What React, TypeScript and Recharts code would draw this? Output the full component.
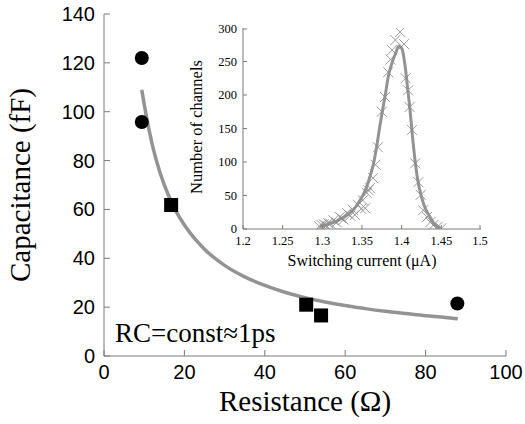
import React from 'react';
import { ComposedChart, Line, Scatter, XAxis, YAxis, Label } from 'recharts';

// ---------- main chart data ----------
const resistanceTicks = [0, 20, 40, 60, 80, 100];
const capacitanceTicks = [0, 20, 40, 60, 80, 100, 120, 140];

const circlePoints = [
  { r: 9.4, c: 122 },
  { r: 9.4, c: 95.8 },
  { r: 87.9, c: 21.5 },
];

const squarePoints = [
  { r: 16.7, c: 61.8 },
  { r: 50.3, c: 21 },
  { r: 54, c: 16.6 },
];

const fitCurve = [
  { r: 9.4, c: 109 },
  { r: 10, c: 103 },
  { r: 12, c: 86.5 },
  { r: 14, c: 74.7 },
  { r: 16, c: 65.9 },
  { r: 18, c: 59 },
  { r: 20, c: 53.6 },
  { r: 25, c: 43.7 },
  { r: 30, c: 37.1 },
  { r: 35, c: 32.4 },
  { r: 40, c: 28.9 },
  { r: 45, c: 26.1 },
  { r: 50, c: 23.9 },
  { r: 55, c: 22.1 },
  { r: 60, c: 20.7 },
  { r: 65, c: 19.4 },
  { r: 70, c: 18.3 },
  { r: 75, c: 17.4 },
  { r: 80, c: 16.5 },
  { r: 85, c: 15.8 },
  { r: 88, c: 15.2 },
];

// ---------- inset data ----------
const currentTicks = [1.2, 1.25, 1.3, 1.35, 1.4, 1.45, 1.5];
const channelTicks = [0, 50, 100, 150, 200, 250, 300];

const histogramPoints = [
  { i: 1.296, n: 4 },
  { i: 1.299, n: 6 },
  { i: 1.302, n: 7 },
  { i: 1.305, n: 5 },
  { i: 1.307, n: 9 },
  { i: 1.31, n: 8 },
  { i: 1.314, n: 13 },
  { i: 1.318, n: 10 },
  { i: 1.322, n: 18 },
  { i: 1.324, n: 16 },
  { i: 1.327, n: 14 },
  { i: 1.331, n: 24 },
  { i: 1.335, n: 20 },
  { i: 1.339, n: 28 },
  { i: 1.341, n: 21 },
  { i: 1.345, n: 36 },
  { i: 1.349, n: 30 },
  { i: 1.351, n: 43 },
  { i: 1.354, n: 31 },
  { i: 1.356, n: 54 },
  { i: 1.358, n: 58 },
  { i: 1.36, n: 61 },
  { i: 1.364, n: 76 },
  { i: 1.367, n: 96 },
  { i: 1.37, n: 122 },
  { i: 1.375, n: 175 },
  { i: 1.379, n: 197 },
  { i: 1.383, n: 234 },
  { i: 1.386, n: 253 },
  { i: 1.388, n: 267 },
  { i: 1.392, n: 282 },
  { i: 1.398, n: 294 },
  { i: 1.403, n: 276 },
  { i: 1.405, n: 225 },
  { i: 1.408, n: 207 },
  { i: 1.41, n: 182 },
  { i: 1.413, n: 148 },
  { i: 1.417, n: 98 },
  { i: 1.421, n: 70 },
  { i: 1.424, n: 51 },
  { i: 1.427, n: 28 },
  { i: 1.432, n: 18 },
  { i: 1.436, n: 10 },
  { i: 1.44, n: 6 },
  { i: 1.445, n: 3 },
  { i: 1.45, n: 1 },
];

const histogramFit = [
  { i: 1.297, n: 4 },
  { i: 1.31, n: 8 },
  { i: 1.32, n: 13 },
  { i: 1.33, n: 20 },
  { i: 1.34, n: 30 },
  { i: 1.3475, n: 43 },
  { i: 1.355, n: 60 },
  { i: 1.36, n: 78 },
  { i: 1.365, n: 100 },
  { i: 1.3685, n: 123 },
  { i: 1.372, n: 150 },
  { i: 1.376, n: 178 },
  { i: 1.38, n: 205 },
  { i: 1.383, n: 227 },
  { i: 1.387, n: 245 },
  { i: 1.3916, n: 260 },
  { i: 1.3966, n: 273 },
  { i: 1.4, n: 270 },
  { i: 1.4025, n: 258 },
  { i: 1.405, n: 237 },
  { i: 1.4075, n: 210 },
  { i: 1.4105, n: 178 },
  { i: 1.4135, n: 140 },
  { i: 1.4168, n: 103 },
  { i: 1.42, n: 75 },
  { i: 1.425, n: 48 },
  { i: 1.43, n: 30 },
  { i: 1.4357, n: 18 },
  { i: 1.44, n: 9 },
  { i: 1.4483, n: 1.5 },
];

// ---------- styles ----------
const FRAME = '#7a7a7a';
const CURVE = '#939393';
const SANS = '"Liberation Sans", Arial, Helvetica, sans-serif';
const SERIF = '"Liberation Serif", "Times New Roman", serif';

type TickOpts = { len: number; off: number; fs?: number; ff?: string; show: boolean };

const bottomTick = (o: TickOpts) => (p: any) => (
  <g>
    <line x1={p.x} x2={p.x} y1={p.y} y2={p.y - o.len} stroke={FRAME} strokeWidth={1} />
    {o.show && (
      <text x={p.x} y={p.y + o.off} textAnchor="middle" fontSize={o.fs} fontFamily={o.ff} fill="#000">
        {String(p.payload.value)}
      </text>
    )}
  </g>
);

const topTick = (o: TickOpts) => (p: any) => (
  <g>
    <line x1={p.x} x2={p.x} y1={p.y} y2={p.y + o.len} stroke={FRAME} strokeWidth={1} />
  </g>
);

const leftTick = (o: TickOpts & { base: number }) => (p: any) => (
  <g>
    <line x1={p.x} x2={p.x + o.len} y1={p.y} y2={p.y} stroke={FRAME} strokeWidth={1} />
    {o.show && (
      <text x={p.x - o.off} y={p.y + o.base} textAnchor="end" fontSize={o.fs} fontFamily={o.ff} fill="#000">
        {String(p.payload.value)}
      </text>
    )}
  </g>
);

const rightTick = (o: TickOpts) => (p: any) => (
  <g>
    <line x1={p.x} x2={p.x - o.len} y1={p.y} y2={p.y} stroke={FRAME} strokeWidth={1} />
  </g>
);

const CircleMark = (p: any) => <circle cx={p.cx} cy={p.cy} r={7} fill="#000" />;
const SquareMark = (p: any) => <rect x={p.cx - 7} y={p.cy - 7} width={14} height={14} fill="#000" />;
const CrossMark = (p: any) => (
  <g stroke="#8c8c8c" strokeWidth={0.9}>
    <line x1={p.cx - 5} y1={p.cy - 5} x2={p.cx + 5} y2={p.cy + 5} />
    <line x1={p.cx - 5} y1={p.cy + 5} x2={p.cx + 5} y2={p.cy - 5} />
  </g>
);

export default function App() {
  return (
    <div style={{ position: 'absolute', left: 0, top: 0, width: 525, height: 424, background: '#fff' }}>
      <div style={{ position: 'absolute', left: 0, top: 0 }}>
        <ComposedChart width={525} height={424} margin={{ top: 14, right: 19, bottom: 0, left: 0 }}>
          <XAxis
            xAxisId={0}
            dataKey="r"
            type="number"
            domain={[0, 100]}
            ticks={resistanceTicks}
            allowDataOverflow
            height={68}
            stroke={FRAME}
            tickLine={false}
            tickSize={0}
            tickMargin={0}
            tick={bottomTick({ len: 6, off: 23, fs: 20, ff: SANS, show: true })}
          >
            <Label
              content={(props: any) => {
                const vb = props.viewBox;
                return (
                  <g>
                    <text x={vb.x + vb.width / 2} y={vb.y + 55} textAnchor="middle" fontSize={29} fontFamily={SERIF} fill="#000">
                      Resistance (Ω)
                    </text>
                    <text x={115} y={vb.y - 14} textAnchor="start" fontSize={27} fontFamily={SERIF} fill="#000">
                      RC=const≈1ps
                    </text>
                  </g>
                );
              }}
            />
          </XAxis>
          <XAxis
            xAxisId="top"
            orientation="top"
            type="number"
            domain={[0, 100]}
            ticks={resistanceTicks}
            height={0}
            stroke={FRAME}
            tickLine={false}
            tickSize={0}
            tickMargin={0}
            tick={topTick({ len: 6, off: 0, show: false })}
          />
          <YAxis
            yAxisId={0}
            type="number"
            domain={[0, 140]}
            ticks={capacitanceTicks}
            allowDataOverflow
            width={104}
            stroke={FRAME}
            tickLine={false}
            tickSize={0}
            tickMargin={0}
            tick={leftTick({ len: 6, off: 9, base: 7, fs: 20, ff: SANS, show: true })}
          >
            <Label
              content={() => (
                <text
                  x={30}
                  y={185}
                  transform="rotate(-90 30 185)"
                  textAnchor="middle"
                  fontSize={29}
                  fontFamily={SERIF}
                  fill="#000"
                >
                  Capacitance (fF)
                </text>
              )}
            />
          </YAxis>
          <YAxis
            yAxisId="right"
            orientation="right"
            type="number"
            domain={[0, 140]}
            ticks={capacitanceTicks}
            width={0}
            stroke={FRAME}
            tickLine={false}
            tickSize={0}
            tickMargin={0}
            tick={rightTick({ len: 6, off: 0, show: false })}
          />
          <Line
            data={fitCurve}
            dataKey="c"
            type="monotone"
            stroke={CURVE}
            strokeWidth={3.5}
            dot={false}
            activeDot={false}
            isAnimationActive={false}
          />
          <Scatter data={circlePoints} dataKey="c" shape={CircleMark} isAnimationActive={false} />
          <Scatter data={squarePoints} dataKey="c" shape={SquareMark} isAnimationActive={false} />
        </ComposedChart>
      </div>

      <div style={{ position: 'absolute', left: 180, top: 20 }}>
        <ComposedChart width={310} height={260} margin={{ top: 8, right: 9, bottom: 0, left: 0 }}>
          <XAxis
            xAxisId={0}
            dataKey="i"
            type="number"
            domain={[1.2, 1.5]}
            ticks={currentTicks}
            allowDataOverflow
            height={51}
            stroke={FRAME}
            tickLine={false}
            tickSize={0}
            tickMargin={0}
            tick={bottomTick({ len: 4, off: 16, fs: 12.5, ff: SERIF, show: true })}
          >
            <Label
              content={(props: any) => {
                const vb = props.viewBox;
                return (
                  <text x={vb.x + vb.width / 2} y={vb.y + 37} textAnchor="middle" fontSize={16} fontFamily={SERIF} fill="#000">
                    Switching current (μA)
                  </text>
                );
              }}
            />
          </XAxis>
          <XAxis
            xAxisId="top"
            orientation="top"
            type="number"
            domain={[1.2, 1.5]}
            ticks={currentTicks}
            height={0}
            stroke={FRAME}
            tickLine={false}
            tickSize={0}
            tickMargin={0}
            tick={topTick({ len: 4, off: 0, show: false })}
          />
          <YAxis
            yAxisId={0}
            type="number"
            domain={[0, 300]}
            ticks={channelTicks}
            allowDataOverflow
            width={63}
            stroke={FRAME}
            tickLine={false}
            tickSize={0}
            tickMargin={0}
            tick={leftTick({ len: 4, off: 6, base: 4, fs: 12.5, ff: SERIF, show: true })}
          >
            <Label
              content={() => (
                <text
                  x={22}
                  y={107}
                  transform="rotate(-90 22 107)"
                  textAnchor="middle"
                  fontSize={16.5}
                  fontFamily={SERIF}
                  fill="#000"
                >
                  Number of channels
                </text>
              )}
            />
          </YAxis>
          <YAxis
            yAxisId="right"
            orientation="right"
            type="number"
            domain={[0, 300]}
            ticks={channelTicks}
            width={0}
            stroke={FRAME}
            tickLine={false}
            tickSize={0}
            tickMargin={0}
            tick={rightTick({ len: 4, off: 0, show: false })}
          />
          <Scatter data={histogramPoints} dataKey="n" shape={CrossMark} isAnimationActive={false} />
          <Line
            data={histogramFit}
            dataKey="n"
            type="monotone"
            stroke={CURVE}
            strokeWidth={3}
            dot={false}
            activeDot={false}
            isAnimationActive={false}
          />
        </ComposedChart>
      </div>
    </div>
  );
}
